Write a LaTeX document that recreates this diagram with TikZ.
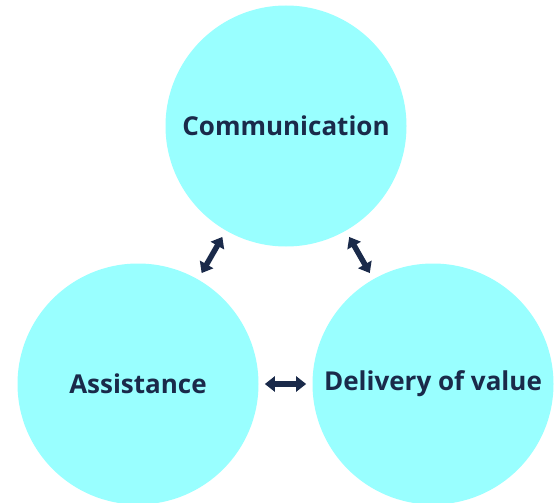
\documentclass[tikz,border=0pt]{standalone}
\usepackage{fontspec}
\setmainfont{Open Sans}
\usetikzlibrary{arrows.meta,calc}
\definecolor{bubble}{HTML}{99FFFF}
\definecolor{ink}{HTML}{1A2A4A}
\tikzset{
  bubble/.style={circle, fill=bubble, minimum size=241pt, inner sep=0pt,
    text=ink, font=\fontsize{26}{30}\selectfont\bfseries},
  link/.style={draw=ink, line width=5.5pt, {Triangle[length=10pt,width=15pt]}-{Triangle[length=10pt,width=15pt]}}
}
\begin{document}
\begin{tikzpicture}[x=1pt,y=-1pt]
  \useasboundingbox (0,0) rectangle (557,503);
  % three bubbles
  \node[bubble] (comm) at (286,126) {Communication};
  \node[bubble] (assist) at (138,384) {Assistance};
  \node[bubble] (deliv) at (433,384) {Delivery of value};
  % two-way links in the gaps between bubbles
  \draw[link] ($(comm)!0.43!(assist)$) -- ($(comm)!0.57!(assist)$);
  \draw[link] ($(comm)!0.43!(deliv)$) -- ($(comm)!0.57!(deliv)$);
  \draw[link] ($(assist)!0.43!(deliv)$) -- ($(assist)!0.57!(deliv)$);
\end{tikzpicture}
\end{document}
